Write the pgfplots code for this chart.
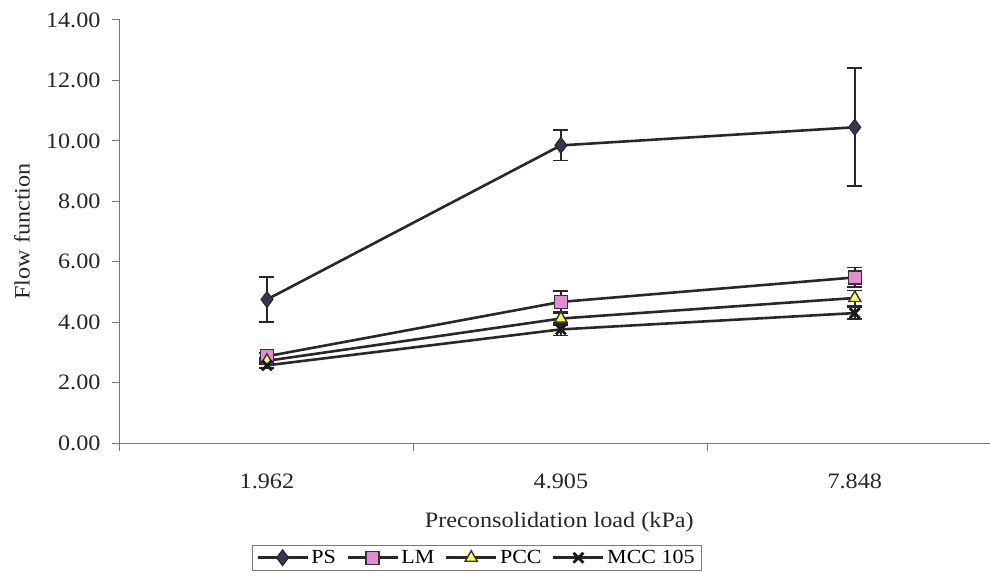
\documentclass[border=0pt]{standalone}
\usepackage{fontspec}
\setmainfont[FakeStretch=1.1]{Liberation Serif}
\usepackage{pgfplots}
\pgfplotsset{compat=1.18}

\definecolor{psfill}{RGB}{55,55,85}
\definecolor{lmfill}{RGB}{228,140,208}
\definecolor{pccfill}{RGB}{255,250,90}
\definecolor{axisgray}{RGB}{120,120,120}
\definecolor{linegray}{RGB}{40,40,40}

\begin{document}
\begin{tikzpicture}
\begin{axis}[
  at={(0bp,0bp)}, anchor=south west,
  scale only axis,
  width=870bp, height=423bp,
  xmin=0, xmax=2.96,
  ymin=0, ymax=14,
  axis x line*=bottom, axis y line*=left,
  axis line style={axisgray, line width=1bp},
  tick style={axisgray, line width=1bp},
  tick align=outside,
  major tick length=8bp,
  xtick={0.5,1.5,2.5},
  xticklabels={1.962,4.905,7.848},
  major x tick style={draw=none},
  minor xtick={0,1,2},
  minor x tick style={axisgray, line width=1bp},
  minor tick length=8bp,
  ytick={0,2,...,14},
  yticklabel style={/pgf/number format/fixed, /pgf/number format/fixed zerofill, /pgf/number format/precision=2},
  /pgf/number format/assume math mode=true,
  ticklabel style={font=\fontsize{22bp}{24bp}\selectfont, text=black!85},
  xticklabel style={yshift=-19bp},
  yticklabel style={xshift=-8bp},
  xlabel={Preconsolidation load (kPa)},
  ylabel={Flow function},
  label style={font=\fontsize{22bp}{24bp}\selectfont, text=black!85},
  xlabel style={at={(rel axis cs:0.505,-0.187)}, anchor=center},
  ylabel style={at={(rel axis cs:-0.1126,0.5)}, anchor=center, rotate=0},
  clip=false,
  legend columns=4,
  legend style={
    at={(rel axis cs:0.41,-0.241)}, anchor=north,
    draw=axisgray, line width=0.8bp,
    font=\fontsize{20bp}{22bp}\selectfont,
    inner xsep=4bp, inner ysep=2bp,
    nodes={inner xsep=2.5bp, inner ysep=3bp},
    /tikz/every even column/.append style={column sep=8bp},
  },
  legend image code/.code={%
    \draw[line width=2.6bp, mark repeat=2, mark phase=2] plot coordinates {(0bp,0bp) (25bp,0bp) (50bp,0bp)};
  },
  every axis plot/.append style={
    linegray, line width=2.6bp,
    error bars/y dir=both, error bars/y explicit,
    error bars/error bar style={linegray, line width=1.8bp},
    error bars/error mark options={rotate=90, linegray, line width=1.8bp, mark size=7.5bp},
  },
]

% PS
\addplot[mark=diamond*, mark size=8bp, mark options={fill=psfill, draw=black!85, line width=1bp}]
  coordinates {(0.5,4.75) +- (0,0.75) (1.5,9.85) +- (0,0.50) (2.5,10.45) +- (0,1.95)};
\addlegendentry{PS}

% LM
\addplot[mark=square*, mark size=6.5bp, mark options={fill=lmfill, draw=black!80, line width=1.4bp}]
  coordinates {(0.5,2.87) +- (0,0.12) (1.5,4.67) +- (0,0.36) (2.5,5.48) +- (0,0.33)};
\addlegendentry{LM}

% PCC
\addplot[mark=triangle*, mark size=7bp, mark options={fill=pccfill, draw=black!80, line width=1.4bp}]
  coordinates {(0.5,2.72) +- (0,0.10) (1.5,4.12) +- (0,0.22) (2.5,4.80) +- (0,0.25)};
\addlegendentry{PCC}

% MCC 105
\addplot[mark=x, mark size=7bp, mark options={draw=black!90, line width=2.8bp}]
  coordinates {(0.5,2.57) +- (0,0.10) (1.5,3.76) +- (0,0.20) (2.5,4.30) +- (0,0.20)};
\addlegendentry{MCC 105}

\end{axis}
\pgfresetboundingbox
\path[use as bounding box] (-120bp,-135bp) rectangle (870bp,443bp);
\end{tikzpicture}
\end{document}
